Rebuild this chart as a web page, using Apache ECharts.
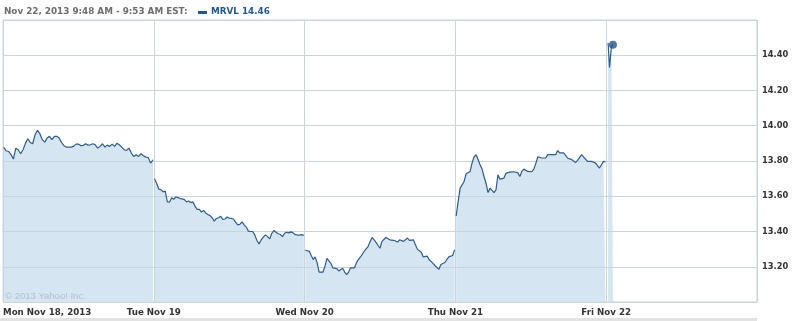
<!DOCTYPE html>
<html>
<head>
<meta charset="utf-8">
<script src="https://cdn.jsdelivr.net/npm/echarts@6/dist/echarts.min.js"></script>
<style>html,body{margin:0;padding:0;background:#fff;}#c{width:798px;height:321px;}</style>
</head>
<body>
<div id="c"></div>
<script>
const headerText = 'Nov 22, 2013 9:48 AM - 9:53 AM EST:';
const tickerName = 'MRVL';
const watermarkText = '\u00A9 2013 Yahoo! Inc.';
const dayLabels = ['Mon Nov 18, 2013', 'Tue Nov 19', 'Wed Nov 20', 'Thu Nov 21', 'Fri Nov 22'];

const monValues = [13.877, 13.858, 13.854, 13.836, 13.811, 13.873, 13.864, 13.841, 13.864, 13.900, 13.926, 13.905, 13.898, 13.949, 13.974, 13.955, 13.921, 13.907, 13.930, 13.940, 13.921, 13.940, 13.940, 13.930, 13.905, 13.887, 13.879, 13.879, 13.879, 13.883, 13.896, 13.896, 13.887, 13.888, 13.898, 13.890, 13.892, 13.898, 13.892, 13.873, 13.883, 13.898, 13.879, 13.890, 13.883, 13.896, 13.883, 13.900, 13.892, 13.879, 13.864, 13.860, 13.873, 13.845, 13.826, 13.836, 13.826, 13.841, 13.830, 13.822, 13.820, 13.788, 13.807];
const tueValues = [13.700, 13.672, 13.640, 13.638, 13.625, 13.629, 13.568, 13.566, 13.592, 13.583, 13.596, 13.592, 13.587, 13.585, 13.581, 13.568, 13.573, 13.564, 13.568, 13.543, 13.526, 13.526, 13.510, 13.520, 13.505, 13.497, 13.490, 13.478, 13.459, 13.474, 13.478, 13.486, 13.469, 13.471, 13.482, 13.476, 13.474, 13.471, 13.453, 13.438, 13.440, 13.455, 13.438, 13.425, 13.402, 13.400, 13.400, 13.381, 13.349, 13.330, 13.352, 13.368, 13.381, 13.371, 13.358, 13.390, 13.406, 13.396, 13.387, 13.383, 13.371, 13.390, 13.396, 13.392, 13.398, 13.392, 13.382, 13.380, 13.380, 13.382, 13.378];
const wedValues = [13.293, 13.282, 13.288, 13.264, 13.241, 13.256, 13.222, 13.170, 13.166, 13.170, 13.204, 13.247, 13.241, 13.219, 13.194, 13.200, 13.189, 13.176, 13.166, 13.191, 13.170, 13.155, 13.170, 13.194, 13.194, 13.194, 13.222, 13.241, 13.254, 13.260, 13.288, 13.297, 13.316, 13.344, 13.366, 13.357, 13.338, 13.344, 13.305, 13.344, 13.353, 13.366, 13.372, 13.353, 13.350, 13.350, 13.348, 13.340, 13.353, 13.344, 13.344, 13.350, 13.363, 13.350, 13.350, 13.353, 13.357, 13.300, 13.297, 13.282, 13.256, 13.264, 13.260, 13.241, 13.232, 13.219, 13.207, 13.204, 13.185, 13.213, 13.222, 13.224, 13.224, 13.256, 13.264, 13.264, 13.297];
const thuValues = [13.488, 13.570, 13.646, 13.655, 13.684, 13.728, 13.731, 13.741, 13.789, 13.823, 13.836, 13.808, 13.779, 13.754, 13.712, 13.674, 13.621, 13.646, 13.636, 13.621, 13.636, 13.722, 13.697, 13.693, 13.703, 13.731, 13.731, 13.737, 13.735, 13.739, 13.731, 13.733, 13.712, 13.741, 13.754, 13.760, 13.741, 13.737, 13.739, 13.754, 13.785, 13.823, 13.830, 13.817, 13.817, 13.817, 13.836, 13.842, 13.836, 13.827, 13.836, 13.859, 13.846, 13.836, 13.846, 13.832, 13.817, 13.813, 13.808, 13.804, 13.792, 13.804, 13.810, 13.836, 13.827, 13.811, 13.798, 13.808, 13.798, 13.804, 13.789, 13.785, 13.760, 13.779, 13.798, 13.795];
const friValues = [14.47, 14.33, 14.45, 14.46];
const friMinutes = [5, 8.5, 13.5, 17.5];

const DAY = 390;
function dayData(values, dayIdx) {
  const step = 386 / (values.length - 1);
  return values.map((v, i) => [dayIdx * DAY + 2 + i * step, v]);
}
const days = [
  dayData(monValues, 0),
  dayData(tueValues, 1),
  dayData(wedValues, 2),
  dayData(thuValues, 3),
  friValues.map((v, i) => [4 * DAY + friMinutes[i], v])
];
const lastPoint = days[4][days[4].length - 1];

const lineColor = '#2b5d8f';
const fillColor = '#d5e5f1';
const gridColor = '#c8d5df';

const series = [];
days.forEach(d => {
  series.push({
    type: 'line', data: d, showSymbol: false, symbol: 'none', z: 1,
    lineStyle: { width: 0 }, areaStyle: { color: fillColor, opacity: 1, origin: 'start' },
    silent: true, animation: false
  });
  series.push({
    type: 'line', data: d, showSymbol: false, symbol: 'none', z: 3,
    lineStyle: { width: 1.2, color: lineColor }, silent: true, animation: false
  });
});
series.push({
  type: 'scatter', data: [lastPoint], symbolSize: 8, z: 4,
  itemStyle: { color: '#1d5490' }, animation: false
});

const chart = echarts.init(document.getElementById('c'), null, { renderer: 'canvas' });
chart.setOption({
  animation: false,
  grid: { left: 3, right: 41, top: 20, bottom: 19, show: true, borderColor: gridColor, borderWidth: 1, backgroundColor: 'transparent' },
  xAxis: {
    type: 'value', min: 0, max: 5 * DAY, interval: DAY, z: 2,
    axisLine: { show: false }, axisTick: { show: false },
    splitLine: { show: true, lineStyle: { color: gridColor, width: 1 } },
    axisLabel: {
      margin: 6, showMaxLabel: false, alignMinLabel: 'left',
      fontFamily: 'DejaVu Sans', fontWeight: 'bold', fontSize: 8.7, color: '#333',
      formatter: v => dayLabels[Math.round(v / DAY)] || ''
    }
  },
  yAxis: {
    type: 'value', position: 'right', min: 13.0, max: 14.6, interval: 0.2, z: 2,
    axisLine: { show: false },
    axisTick: { show: true, length: 3, lineStyle: { color: gridColor } },
    splitLine: { show: true, lineStyle: { color: gridColor, width: 1 } },
    axisLabel: {
      margin: 5, showMinLabel: false, showMaxLabel: false,
      fontFamily: 'DejaVu Sans', fontWeight: 'bold', fontSize: 8.3, color: '#333',
      formatter: v => v.toFixed(2)
    }
  },
  graphic: [
    { type: 'text', left: 4, top: 7, style: { text: headerText, fill: '#6d6d6d', font: 'bold 8.8px "DejaVu Sans"' } },
    { type: 'rect', shape: { x: 198, y: 11, width: 9, height: 3 }, style: { fill: '#1f5796' } },
    { type: 'text', left: 211, top: 7, style: { text: tickerName + ' ' + lastPoint[1].toFixed(2), fill: '#1f5796', font: 'bold 8.8px "DejaVu Sans"' } },
    { type: 'text', left: 5, top: 291, z: 10, style: { text: watermarkText, fill: '#b3c1cd', font: '9.5px "Liberation Sans"' } },
    { type: 'rect', shape: { x: 0, y: 318, width: 757, height: 3 }, style: { fill: '#e3e3e3' } }
  ],
  series: series
});
</script>
</body>
</html>
